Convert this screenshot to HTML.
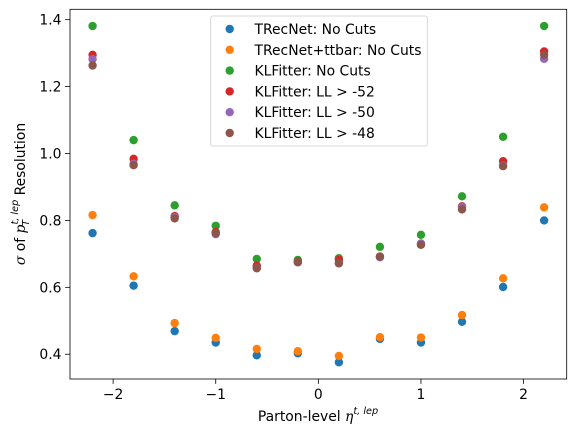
<!DOCTYPE html>
<html><head><meta charset="utf-8"><style>
html,body{margin:0;padding:0;background:#fff;}
svg{display:block;font-family:"DejaVu Sans","Liberation Sans",sans-serif;}
</style></head><body>
<svg id="chart" width="576" height="439" viewBox="0 0 576 439" xmlns="http://www.w3.org/2000/svg">
<rect x="0" y="0" width="576" height="439" fill="#fff"/>
<g id="marks"></g>
<g id="axes"></g>
<g id="legend"></g>
<text x="318" y="421" font-size="13.9" text-anchor="middle">Parton-level <tspan font-style="italic" font-family="DejaVu Serif, serif">η</tspan><tspan font-size="9.7" dy="-7" font-style="italic">t, lep</tspan></text>
<text transform="translate(25,194) rotate(-90)" font-size="13.9" text-anchor="middle"><tspan font-style="italic" font-family="DejaVu Serif, serif">σ</tspan> of <tspan font-style="italic" font-family="DejaVu Serif, serif">p</tspan><tspan font-size="9.7" dy="-7" font-style="italic">t, lep</tspan><tspan font-size="9.7" dx="-26" dy="11" font-style="italic">T</tspan><tspan dx="20" dy="-4"> Resolution</tspan></text>
</svg>
<script>
const xValues = [-2.2,-1.8,-1.4,-1.0,-0.6,-0.2,0.2,0.6,1.0,1.4,1.8,2.2];
const seriesNames = ["TRecNet: No Cuts","TRecNet+ttbar: No Cuts","KLFitter: No Cuts","KLFitter: LL > -52","KLFitter: LL > -50","KLFitter: LL > -48"];
const seriesColors = ["#1f77b4","#ff7f0e","#2ca02c","#d62728","#9467bd","#8c564b"];
const trecnet = [0.762,0.605,0.469,0.435,0.397,0.403,0.376,0.446,0.435,0.497,0.601,0.800];
const trecnetTtbar = [0.816,0.633,0.493,0.449,0.416,0.409,0.395,0.451,0.450,0.517,0.627,0.839];
const klNoCuts = [1.381,1.040,0.845,0.784,0.685,0.682,0.687,0.721,0.757,0.872,1.050,1.381];
const kl52 = [1.295,0.984,0.813,0.765,0.665,0.677,0.682,0.692,0.728,0.842,0.977,1.305];
const kl50 = [1.282,0.969,0.810,0.759,0.658,0.675,0.672,0.690,0.731,0.839,0.964,1.283];
const kl48 = [1.263,0.965,0.806,0.762,0.657,0.675,0.672,0.692,0.727,0.833,0.962,1.295];
const xTicks = [-2,-1,0,1,2];
const xTickLabels = ["−2","−1","0","1","2"];
const yTicks = [0.4,0.6,0.8,1.0,1.2,1.4];
const yTickLabels = ["0.4","0.6","0.8","1.0","1.2","1.4"];

const NS="http://www.w3.org/2000/svg";
const L=70,R=566.7,T=9.3,B=379;
const xMin=-2.42,xMax=2.42,yMin=0.326,yMax=1.431;
const xs=v=>L+(v-xMin)/(xMax-xMin)*(R-L);
const ys=v=>B-(v-yMin)/(yMax-yMin)*(B-T);
function mk(tag,attrs,parent){const e=document.createElementNS(NS,tag);for(const k in attrs)e.setAttribute(k,attrs[k]);parent.appendChild(e);return e;}
const marks=document.getElementById('marks'),axes=document.getElementById('axes'),legend=document.getElementById('legend');
const allSeries=[trecnet,trecnetTtbar,klNoCuts,kl52,kl50,kl48];
allSeries.forEach((s,si)=>{
  s.forEach((v,i)=>{
    const c=mk('circle',{cx:xs(xValues[i]),cy:ys(v),r:4.2,fill:seriesColors[si]},marks);
    
    
  });
});
const frame=mk('rect',{x:L,y:T,width:R-L,height:B-T,fill:'none',stroke:'#000','stroke-width':0.8},axes);


xTicks.forEach((t,i)=>{
  const x=xs(t);
  mk('line',{x1:x,x2:x,y1:B,y2:B+4.9,stroke:'#000','stroke-width':0.8},axes);
  const tx=mk('text',{x:x,y:B+20,'font-size':13.9,'text-anchor':'middle'},axes);
  tx.textContent=xTickLabels[i];
  
  
});
yTicks.forEach((t,i)=>{
  const y=ys(t);
  mk('line',{x1:L-4.9,x2:L,y1:y,y2:y,stroke:'#000','stroke-width':0.8},axes);
  const tx=mk('text',{x:L-8.5,y:y+5,'font-size':13.9,'text-anchor':'end'},axes);
  tx.textContent=yTickLabels[i];
  
  
});
const box=mk('rect',{x:210.7,y:16,width:216.6,height:130,rx:2,fill:'#fff','fill-opacity':0.8,stroke:'#ccc','stroke-width':0.8},legend);


seriesNames.forEach((n,i)=>{
  const y=29+i*20.8;
  const c=mk('circle',{cx:229.7,cy:y,r:4.2,fill:seriesColors[i]},legend);
  
  
  const t=mk('text',{x:254.5,y:y+5,'font-size':13.9},legend);
  t.textContent=n;
  
  
});
</script>
</body></html>
